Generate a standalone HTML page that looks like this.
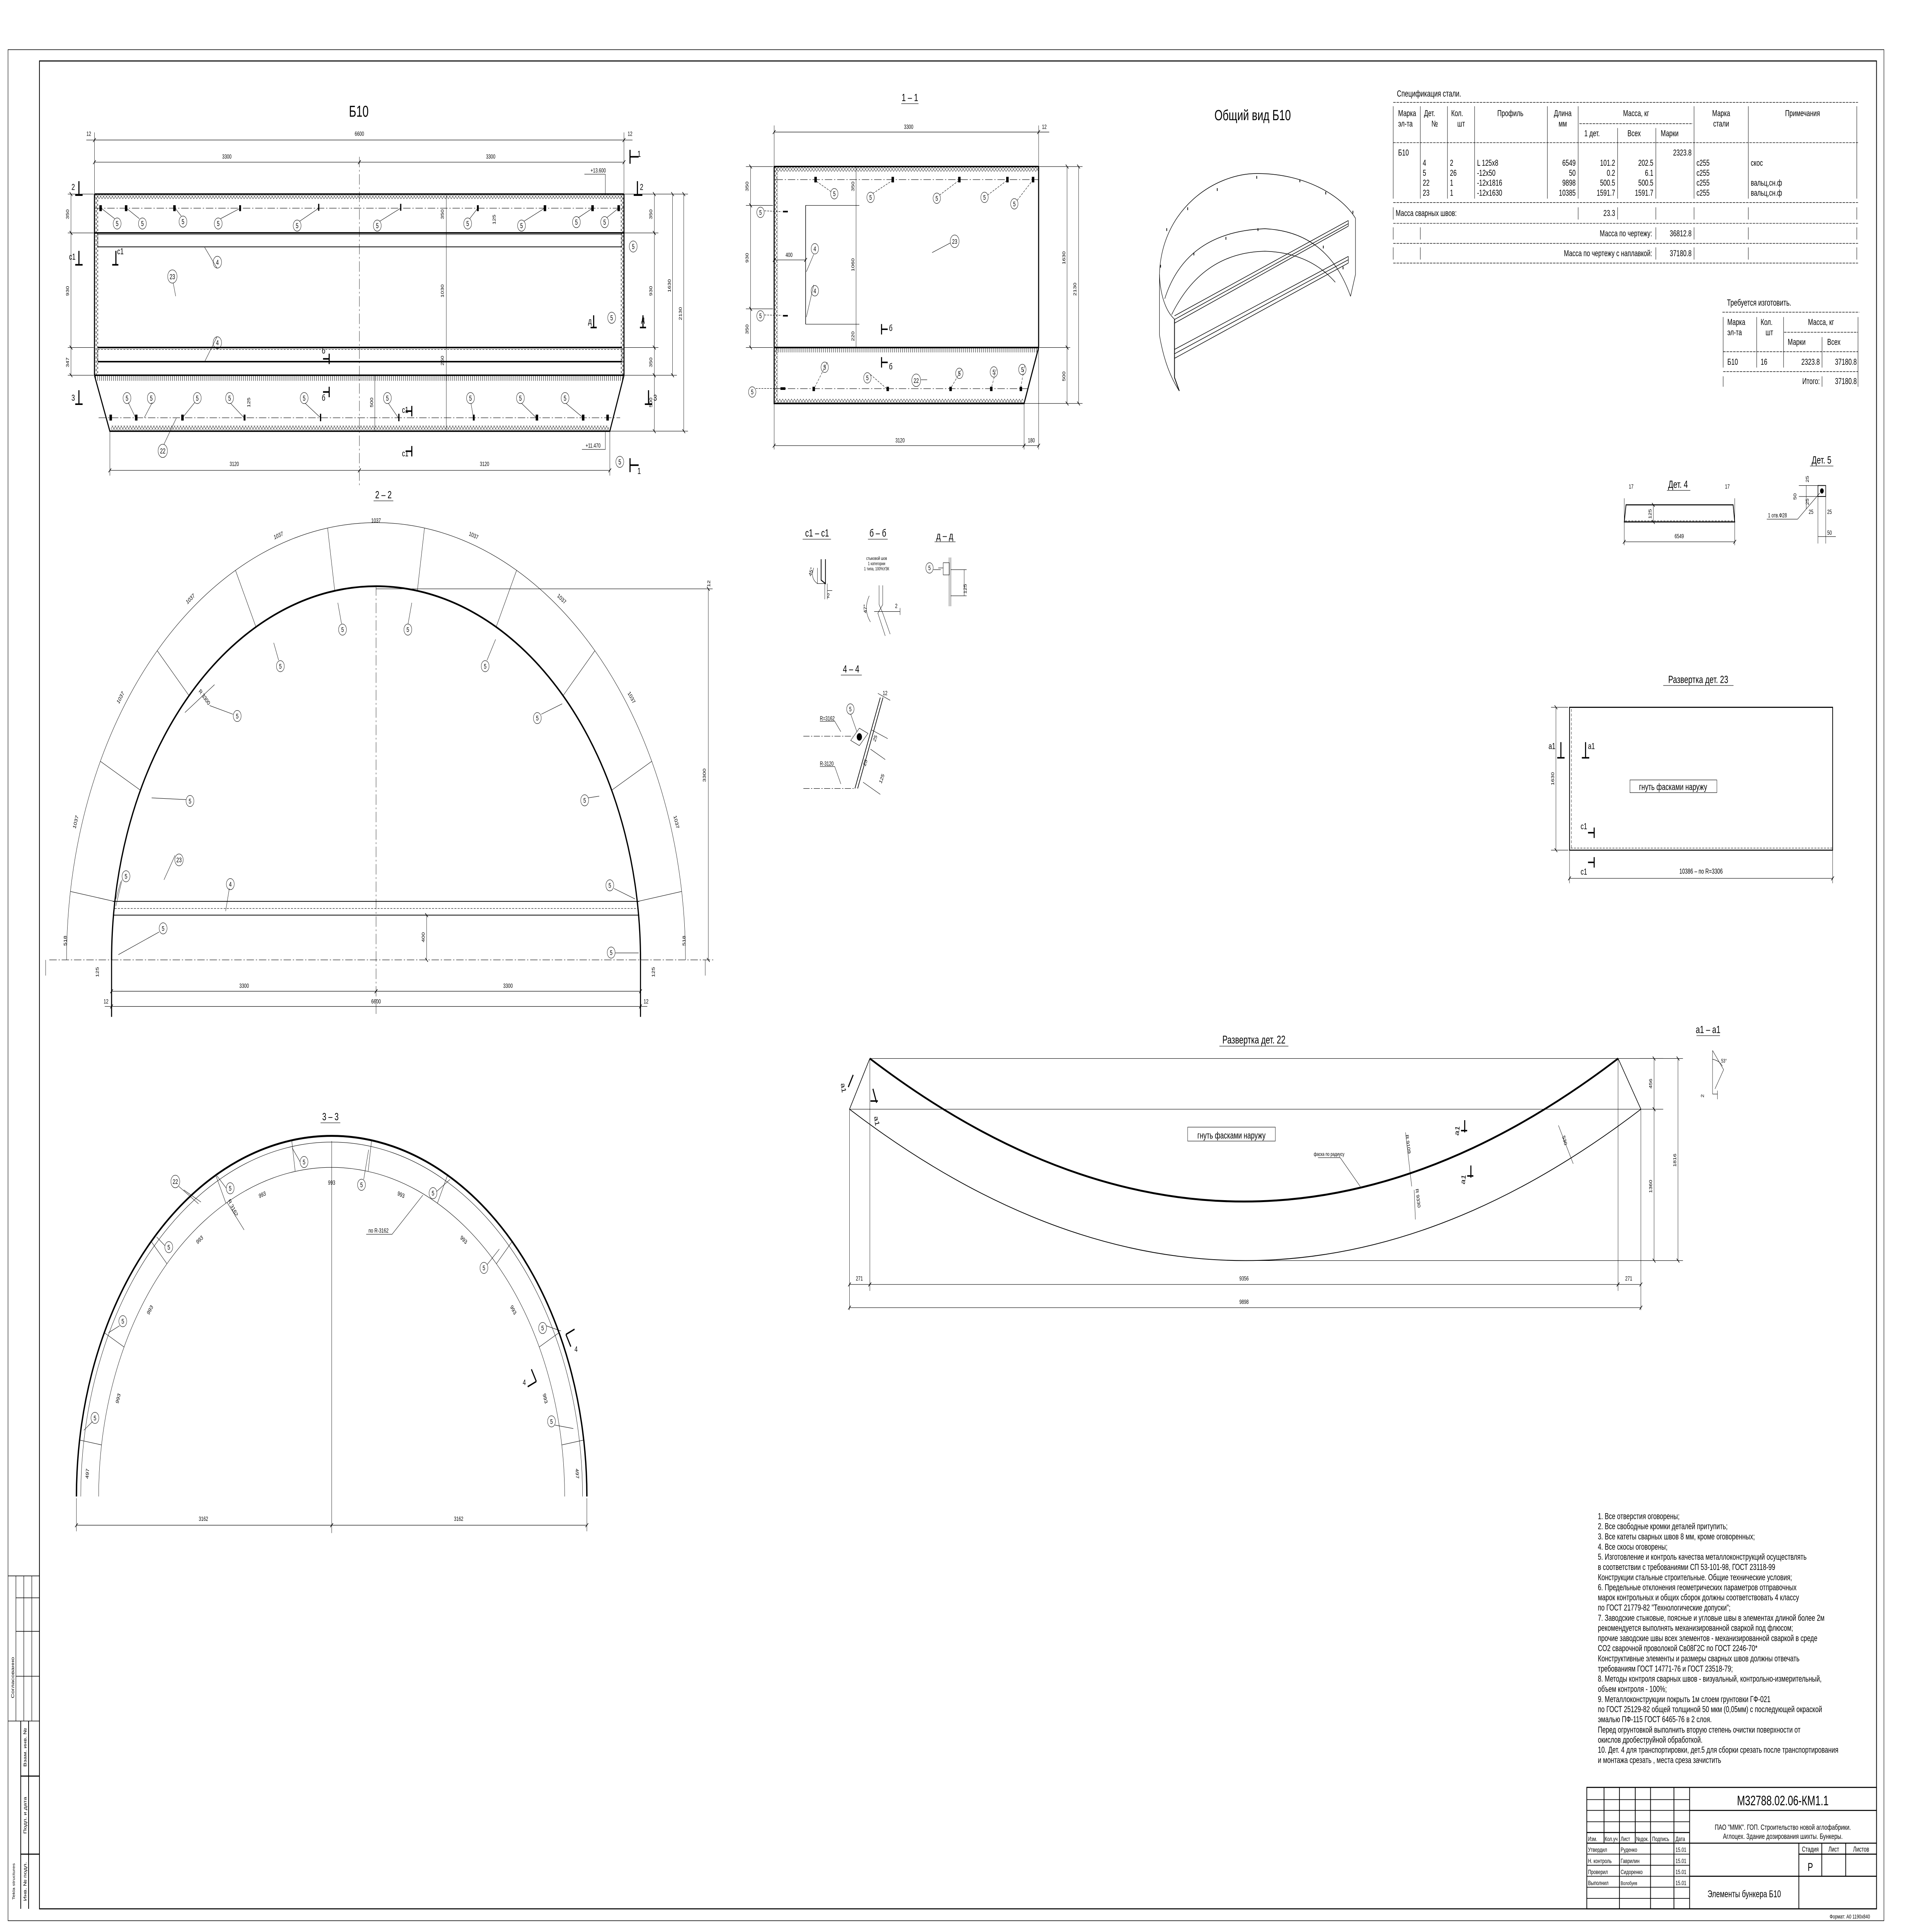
<!DOCTYPE html>
<html><head><meta charset="utf-8"><style>
html,body{margin:0;padding:0;background:#fff;overflow:hidden;width:100vw;height:100vh}
svg{display:block;position:absolute;left:0;top:0;width:100vw;height:100vh}
.t{stroke:#000;stroke-width:.25;fill:none}
.m{stroke:#000;stroke-width:.45;fill:none}
.k{stroke:#000;stroke-width:.85;fill:none}
.d{stroke:#000;stroke-width:.25;fill:none;stroke-dasharray:6 1.5 1 1.5}
.ds{stroke:#000;stroke-width:.25;fill:none;stroke-dasharray:1.6 1}
.dm{marker-start:url(#tk);marker-end:url(#tk)}
text{font-family:"Liberation Sans Narrow","Liberation Sans",sans-serif;fill:#000;stroke:none}
.n{font-size:3.4px}
.c{text-anchor:middle}
.e{text-anchor:end}
.mo{font-family:"Liberation Mono",monospace;font-size:4.9px}
.nt{font-size:5px}
</style></head><body>
<svg viewBox="0 0 1567 1109" preserveAspectRatio="none" xmlns="http://www.w3.org/2000/svg">
<defs>
<marker id="tk" markerWidth="4" markerHeight="4" refX="2" refY="2" orient="auto" markerUnits="userSpaceOnUse"><path d="M0.9 3.1L3.1 0.9" stroke="#000" stroke-width="0.4"/></marker>
<pattern id="xx" width="2.4" height="2.4" patternUnits="userSpaceOnUse"><path d="M0 0L2.4 2.4M2.4 0L0 2.4" stroke="#000" stroke-width=".2"/></pattern>
<pattern id="vv" width="1.6" height="3" patternUnits="userSpaceOnUse"><path d="M0.8 0V3" stroke="#000" stroke-width=".3"/></pattern>
</defs>
<rect width="1567" height="1109" fill="#fff"/>
<!-- frames -->
<rect x="6.5" y="28.5" width="1521.5" height="1074" class="t" style="stroke-width:.35"/>
<rect x="32" y="35" width="1490" height="1060.7" class="k" style="stroke-width:.6"/>

<!-- ===== Б10 plan ===== -->
<text x="291" y="67" class="c" style="font-size:9px">Б10</text>
<line x1="76.6" y1="80.4" x2="506.1" y2="80.4" class="t dm"/>
<line x1="70" y1="80.4" x2="513" y2="80.4" class="t"/>
<text x="72" y="78" class="n c">12</text><text x="291.5" y="78" class="n c">6600</text><text x="511" y="78" class="n c">12</text>
<line x1="76.6" y1="93.1" x2="291.5" y2="93.1" class="t dm"/><line x1="291.5" y1="93.1" x2="506.1" y2="93.1" class="t dm"/>
<text x="184" y="91" class="n c">3300</text><text x="398" y="91" class="n c">3300</text>
<line x1="76.6" y1="76" x2="76.6" y2="111" class="t"/><line x1="506.1" y1="76" x2="506.1" y2="111" class="t"/>
<line x1="291.5" y1="90" x2="291.5" y2="280" class="d"/>
<rect x="76.6" y="111.6" width="429.5" height="2.6" fill="url(#xx)"/>
<rect x="77.3" y="112" width="2.4" height="103" fill="url(#xx)"/>
<rect x="503.4" y="112" width="2.4" height="103" fill="url(#xx)"/>
<line x1="76.6" y1="111.4" x2="506.1" y2="111.4" class="k"/>
<line x1="76.6" y1="111.4" x2="76.6" y2="215.4" class="k"/>
<line x1="506.1" y1="111.4" x2="506.1" y2="215.4" class="k"/>
<line x1="77" y1="119.5" x2="506" y2="119.5" class="d"/>
<line x1="76.6" y1="133.7" x2="506.1" y2="133.7" class="k"/>
<rect x="79.3" y="134.6" width="425" height="7.1" class="t"/>
<line x1="79.3" y1="141.7" x2="504.4" y2="141.7" class="m"/>
<line x1="79.3" y1="199.5" x2="504.4" y2="199.5" class="k"/>
<line x1="79.3" y1="200.6" x2="504.4" y2="200.6" class="ds"/>
<line x1="79.3" y1="207.6" x2="504.4" y2="207.6" class="k"/>
<line x1="79.3" y1="199.5" x2="79.3" y2="207.6" class="t"/><line x1="504.4" y1="199.5" x2="504.4" y2="207.6" class="t"/>
<rect x="77" y="215.6" width="429" height="3" fill="url(#vv)"/>
<line x1="76.6" y1="215.4" x2="506.1" y2="215.4" class="k"/>
<path d="M76.6 215.4L89.1 247.5L494.6 247.5L506.1 215.4" class="k"/>
<rect x="90" y="244.3" width="404" height="2.6" fill="url(#xx)"/>
<line x1="80" y1="239.8" x2="503" y2="239.8" class="d"/>
<line x1="89.1" y1="247.5" x2="89.1" y2="273" class="t"/><line x1="494.6" y1="247.5" x2="494.6" y2="273" class="t"/>
<line x1="89.1" y1="270" x2="291.5" y2="270" class="t dm"/><line x1="291.5" y1="270" x2="494.6" y2="270" class="t dm"/>
<text x="190" y="267.5" class="n c">3120</text><text x="393" y="267.5" class="n c">3120</text>
<g class="t">
<line x1="506" y1="111.4" x2="558" y2="111.4"/><line x1="506" y1="133.7" x2="534" y2="133.7"/><line x1="506" y1="199.5" x2="534" y2="199.5"/><line x1="506" y1="215.4" x2="549" y2="215.4"/><line x1="494.6" y1="247.5" x2="558" y2="247.5"/>
<line x1="530.7" y1="111.4" x2="530.7" y2="133.7" class="t dm"/><line x1="530.7" y1="133.7" x2="530.7" y2="199.5" class="t dm"/><line x1="530.7" y1="199.5" x2="530.7" y2="215.4" class="t dm"/><line x1="530.7" y1="215.4" x2="530.7" y2="247.5" class="t dm"/>
<line x1="545.5" y1="111.4" x2="545.5" y2="215.4" class="t dm"/><line x1="554.6" y1="111.4" x2="554.6" y2="247.5" class="t dm"/>
<line x1="55" y1="111.4" x2="76" y2="111.4"/><line x1="55" y1="133.7" x2="76" y2="133.7"/><line x1="55" y1="199.5" x2="76" y2="199.5"/><line x1="55" y1="215.4" x2="76" y2="215.4"/>
<line x1="57.6" y1="111.4" x2="57.6" y2="133.7" class="t dm"/><line x1="57.6" y1="133.7" x2="57.6" y2="199.5" class="t dm"/><line x1="57.6" y1="199.5" x2="57.6" y2="215.4" class="t dm"/>
</g>
<g class="n c">
<text transform="translate(529,123) rotate(-90)">350</text><text transform="translate(529,167) rotate(-90)">930</text><text transform="translate(529,208) rotate(-90)">350</text><text transform="translate(529,231) rotate(-90)">500</text>
<text transform="translate(544,164) rotate(-90)">1630</text><text transform="translate(553,180) rotate(-90)">2130</text>
<text transform="translate(56,123) rotate(-90)">350</text><text transform="translate(56,167) rotate(-90)">930</text><text transform="translate(56,208) rotate(-90)">347</text>
<text transform="translate(360,167) rotate(-90)">1030</text><text transform="translate(360,123) rotate(-90)">350</text><text transform="translate(360,207) rotate(-90)">250</text><text transform="translate(302.6,231) rotate(-90)">500</text><text transform="translate(203,231) rotate(-90)">125</text><text transform="translate(402,126) rotate(-90)">125</text>
</g>
<line x1="304" y1="215.4" x2="304" y2="247.5" class="t"/><line x1="362" y1="112" x2="362" y2="247" class="t"/>
<g fill="#000">
<rect x="80.6" y="117.8" width="2" height="3.4"/><rect x="101.3" y="117.8" width="2" height="3.4"/><rect x="140.5" y="117.8" width="2" height="3.4"/><rect x="194" y="117.8" width="1.5" height="3.4"/><rect x="258" y="117" width="1" height="4"/><rect x="324.5" y="117" width="1" height="4"/><rect x="386.8" y="117.8" width="1.5" height="3.4"/><rect x="441" y="117.8" width="2" height="3.4"/><rect x="479.6" y="117.8" width="2" height="3.4"/><rect x="500.8" y="117.8" width="2" height="3.4"/>
<rect x="88.8" y="238" width="2" height="3.4"/><rect x="109.5" y="238" width="2" height="3.4"/><rect x="147" y="238" width="2" height="3.4"/><rect x="197.6" y="238" width="1.5" height="3.4"/><rect x="259.5" y="237.5" width="1" height="4.3"/><rect x="323" y="237.5" width="1" height="4.3"/><rect x="383.5" y="238" width="1.5" height="3.4"/><rect x="434.5" y="238" width="2" height="3.4"/><rect x="472" y="238" width="2" height="3.4"/><rect x="491.8" y="238" width="2" height="3.4"/>
</g>
<g class="t">
<circle cx="95" cy="128.3" r="3.2"/><circle cx="115.5" cy="128.3" r="3.2"/><circle cx="148.4" cy="127.2" r="3.2"/><circle cx="177" cy="128.3" r="3.2"/><circle cx="241" cy="129.5" r="3.2"/><circle cx="306" cy="129.5" r="3.2"/><circle cx="379.3" cy="128.3" r="3.2"/><circle cx="423" cy="129.5" r="3.2"/><circle cx="467.5" cy="127.5" r="3.2"/><circle cx="490.4" cy="127.5" r="3.2"/>
<circle cx="103" cy="228.5" r="3.2"/><circle cx="122.7" cy="228.5" r="3.2"/><circle cx="160" cy="228.5" r="3.2"/><circle cx="186.2" cy="228.5" r="3.2"/><circle cx="246.7" cy="228.5" r="3.2"/><circle cx="314.2" cy="228.5" r="3.2"/><circle cx="381.6" cy="228.5" r="3.2"/><circle cx="422.1" cy="228.5" r="3.2"/><circle cx="458.3" cy="228.5" r="3.2"/>
<circle cx="513.6" cy="141.5" r="3.2"/><circle cx="496.1" cy="182.4" r="3.2"/><circle cx="502.7" cy="265.1" r="3.2"/>
<circle cx="176.3" cy="150.5" r="3.4"/><circle cx="176.3" cy="196.7" r="3.4"/><circle cx="139.8" cy="158.7" r="3.8"/><circle cx="132" cy="258.8" r="3.8"/>
<path d="M93 125.5L82 119.5M113 125.5L102.5 119.5M147 124L142 119.5M179 125.5L195 119.5M243 127L258.6 119.5M308 127L325 119.5M381 125.5L387.5 119.5M425 127L441.8 119.5M469 125L480.6 119.5M492 125L501.8 119.5"/>
<path d="M104 231L110 239.8M123.5 231L117 239.8M158 231L148 239.8M187 231.5L198 239.8M247.5 231.5L260 239.8M315 231.5L323 239.8M382 231.5L384 239.8M423 231.5L435 239.8M459 231.5L473 239.8"/>
<path d="M176 153.9L166 142M176 193.3L166 207.6M140.5 162.5L142.5 170M133 255L143 240"/>
</g>
<g class="n c" style="font-size:4px">
<text x="95" y="129.8">5</text><text x="115.5" y="129.8">5</text><text x="148.4" y="128.7">5</text><text x="177" y="129.8">5</text><text x="241" y="131">5</text><text x="306" y="131">5</text><text x="379.3" y="129.8">5</text><text x="423" y="131">5</text><text x="467.5" y="129">5</text><text x="490.4" y="129">5</text>
<text x="103" y="230">5</text><text x="122.7" y="230">5</text><text x="160" y="230">5</text><text x="186.2" y="230">5</text><text x="246.7" y="230">5</text><text x="314.2" y="230">5</text><text x="381.6" y="230">5</text><text x="422.1" y="230">5</text><text x="458.3" y="230">5</text>
<text x="513.6" y="143">5</text><text x="496.1" y="183.9">5</text><text x="502.7" y="266.6">5</text>
<text x="176.3" y="152">4</text><text x="176.3" y="198.2">4</text><text x="139.8" y="160.2">23</text><text x="132" y="260.3">22</text>
</g>
<g class="k" style="stroke-width:.9">
<path d="M61 112H67M64 104V112"/><path d="M514 112H521M517 104V112"/><path d="M511 86V94M511 90H518"/><path d="M511 263V271M511 267H518"/>
<path d="M61 232H67M64 224V232"/><path d="M523 232H529M526 224V232"/>
<path d="M61 152H67M64 144V152"/><path d="M91 152H96M94 144V152"/>
<path d="M479 188H484M481.5 181V188"/><path d="M519 188H524M521.5 181V188"/>
<path d="M267 203V209M262 206H267"/><path d="M267 222V228M262 225H267"/>
<path d="M334 233V239M329 236H334"/><path d="M334 256V262M329 259H334"/>
</g>
<g style="font-size:5px">
<text x="58" y="109">2</text><text x="519" y="109">2</text><text x="517" y="90">1</text><text x="517" y="272">1</text><text x="58" y="230">3</text><text x="530" y="230">3</text>
<text x="56" y="149">с1</text><text x="95" y="146">с1</text><text x="477" y="186">д</text><text x="520" y="185">д</text><text x="261" y="203">б</text><text x="261" y="230">б</text><text x="326" y="237">с1</text><text x="326" y="262">с1</text>
</g>
<text x="479" y="99" class="n">+13.600</text><line x1="474" y1="100" x2="491" y2="100" class="t"/><line x1="491" y1="100" x2="491" y2="111" class="t"/>
<text x="475" y="257" class="n">+11.470</text><line x1="472" y1="258" x2="491" y2="258" class="t"/><line x1="491" y1="258" x2="491" y2="248" class="t"/>

<!-- ===== 1-1 ===== -->
<text x="738" y="58" class="c" style="font-size:6px">1 – 1</text><line x1="731" y1="59.5" x2="745" y2="59.5" class="t"/>
<line x1="627.9" y1="75.8" x2="842.4" y2="75.8" class="t dm"/><line x1="842.4" y1="75.8" x2="851" y2="75.8" class="t"/>
<line x1="627.9" y1="72" x2="627.9" y2="95" class="t"/><line x1="842.4" y1="72" x2="842.4" y2="95" class="t"/>
<text x="737" y="74" class="n c">3300</text><text x="847" y="74" class="n c">12</text>
<rect x="628" y="96" width="214" height="2.5" fill="url(#xx)"/>
<rect x="628.5" y="96" width="2.4" height="135" fill="url(#xx)"/>
<rect x="630" y="229" width="200" height="2.4" fill="url(#xx)"/>
<rect x="628" y="199.7" width="214" height="2.6" fill="url(#vv)"/>
<path d="M627.9 95.6H842.4V199.5L830.6 231.6H627.9Z" class="k"/>
<line x1="627.9" y1="199.5" x2="842.4" y2="199.5" class="k"/>
<line x1="629" y1="103.1" x2="842" y2="103.1" class="d"/><line x1="629" y1="223.1" x2="834" y2="223.1" class="d"/>
<line x1="694.3" y1="95.6" x2="694.3" y2="199.5" class="t"/>
<line x1="653.4" y1="117.9" x2="653.4" y2="186.1" class="m"/><line x1="653.4" y1="117.9" x2="697" y2="117.9" class="t"/><line x1="653.4" y1="186.1" x2="697" y2="186.1" class="t"/>
<line x1="628" y1="149.2" x2="653.4" y2="149.2" class="t dm"/><text x="640" y="147.5" class="n c">400</text>
<g class="t"><line x1="605" y1="95.6" x2="627" y2="95.6"/><line x1="605" y1="117.9" x2="627" y2="117.9"/><line x1="605" y1="177.3" x2="627" y2="177.3"/><line x1="605" y1="199.5" x2="627" y2="199.5"/>
<line x1="843" y1="95.6" x2="878" y2="95.6"/><line x1="843" y1="199.5" x2="868" y2="199.5"/><line x1="831" y1="231.6" x2="878" y2="231.6"/>
<line x1="627.9" y1="232" x2="627.9" y2="258"/><line x1="830.6" y1="232" x2="830.6" y2="258"/><line x1="842.4" y1="200" x2="842.4" y2="258"/></g>
<line x1="608.8" y1="95.6" x2="608.8" y2="117.9" class="t dm"/><line x1="608.8" y1="117.9" x2="608.8" y2="177.3" class="t dm"/><line x1="608.8" y1="177.3" x2="608.8" y2="199.5" class="t dm"/>
<line x1="865.5" y1="95.6" x2="865.5" y2="199.5" class="t dm"/><line x1="865.5" y1="199.5" x2="865.5" y2="231.6" class="t dm"/><line x1="874.8" y1="95.6" x2="874.8" y2="231.6" class="t dm"/>
<line x1="627.9" y1="255.8" x2="830.6" y2="255.8" class="t dm"/><line x1="830.6" y1="255.8" x2="842.4" y2="255.8" class="t dm"/>
<text x="730" y="254" class="n c">3120</text><text x="836.5" y="254" class="n c">180</text>
<g class="n c"><text transform="translate(607,107) rotate(-90)">350</text><text transform="translate(607,148) rotate(-90)">930</text><text transform="translate(607,189) rotate(-90)">350</text>
<text transform="translate(864,148) rotate(-90)">1630</text><text transform="translate(864,216) rotate(-90)">500</text><text transform="translate(873,166) rotate(-90)">2130</text>
<text transform="translate(693,152) rotate(-90)">1060</text><text transform="translate(693,193) rotate(-90)">220</text><text transform="translate(693,107) rotate(-90)">350</text></g>
<g fill="#000"><rect x="660.5" y="101.5" width="2" height="3.2"/><rect x="723.1" y="101.5" width="2" height="3.2"/><rect x="777.1" y="101.5" width="2" height="3.2"/><rect x="816.1" y="101.5" width="2" height="3.2"/><rect x="836.9" y="101.5" width="2" height="3.2"/>
<rect x="635" y="121" width="4" height="0.9"/><rect x="635" y="180.8" width="4" height="0.9"/><rect x="633" y="222.3" width="4" height="1.5"/><rect x="659" y="222" width="2" height="2.5"/><rect x="719" y="222" width="2" height="2.5"/><rect x="770" y="222" width="2" height="2.5"/><rect x="803" y="222" width="2" height="2.5"/><rect x="827" y="222" width="2" height="2.5"/></g>
<g class="t" style="stroke-dasharray:1.5 .8">
<path d="M674 110L662 104M708 111L723 104M762 112L777 104M801 112L816 104M825 115L837 104M620 121L634 121.5M620 180.8L634 181M671 208L661 222M706 215L719 223M780 212L771 223M808 212L804 223M831 210L828 222M613 223L632 223"/></g>
<g class="t"><circle cx="676.7" cy="111.2" r="3"/><circle cx="706.1" cy="113.3" r="3"/><circle cx="759.8" cy="113.8" r="3"/><circle cx="798.5" cy="113.3" r="3"/><circle cx="822.7" cy="117" r="3"/><circle cx="616.8" cy="121.9" r="3"/><circle cx="616.8" cy="181.3" r="3"/><circle cx="668.9" cy="210.8" r="3"/><circle cx="703.5" cy="216.9" r="3"/><circle cx="778.1" cy="214.3" r="3"/><circle cx="806.1" cy="213.5" r="3"/><circle cx="829.2" cy="212.1" r="3"/><circle cx="610.1" cy="225" r="3"/>
<circle cx="660.9" cy="142.8" r="3"/><circle cx="660.9" cy="166.9" r="3"/><circle cx="774.3" cy="138.5" r="3.6"/><circle cx="743.1" cy="218.3" r="3.6"/>
<path d="M770.7 139.5L756 145M747 218H752M660 146L654 156M660 163.5L654 182"/></g>
<g class="n c" style="font-size:3.8px"><text x="676.7" y="112.6">5</text><text x="706.1" y="114.7">5</text><text x="759.8" y="115.2">5</text><text x="798.5" y="114.7">5</text><text x="822.7" y="118.4">5</text><text x="616.8" y="123.3">5</text><text x="616.8" y="182.7">5</text><text x="668.9" y="212.2">5</text><text x="703.5" y="218.3">5</text><text x="778.1" y="215.7">5</text><text x="806.1" y="214.9">5</text><text x="829.2" y="213.5">5</text><text x="610.1" y="226.4">5</text>
<text x="660.9" y="144.2">4</text><text x="660.9" y="168.3">4</text><text x="774.3" y="140">23</text><text x="743.1" y="219.8">22</text></g>
<g class="k"><path d="M715 186V192M715 189H720"/><path d="M715 205V211M715 208H720"/></g>
<text x="721" y="190" style="font-size:5px">б</text><text x="721" y="212" style="font-size:5px">б</text>

<!-- ===== Общий вид ===== -->
<text x="1016" y="69" class="c" style="font-size:8.5px">Общий вид Б10</text>
<g class="t" style="stroke-width:.35">
<path d="M940.4 157.5C942 120 985 99.6 1019.6 99.6C1058 99.6 1088 112 1099.4 125.3"/>
<path d="M940.4 157.5C941 170 946 179 952.6 183.2"/>
<path d="M940.4 157.5V192.3Q945 212 956.5 224.4"/>
<path d="M952.6 183.2V216.7L956.5 224.4" style="stroke-width:.6"/>
<path d="M1099.4 125.3V157.5L1095.4 170.1"/>
<path d="M944.7 171.5Q962 133 1025.9 131.3Q1077 133 1095.4 170.1"/>
<path d="M950.3 180.6Q975 145 1025.9 144.2Q1062 145 1083 162"/>
<path d="M952.6 181.3L1093.6 126.6M952.6 183.4L1093.6 128.4M952.6 185.5L1093.6 129.8M1093.6 126.6V129.8"/>
<path d="M952.6 200.6L1093.6 147.2M952.6 203.1L1093.6 149.1M952.6 205.7L1093.6 151M1093.6 147.2V151"/>
</g>
<g fill="#000"><rect x="1019" y="101" width=".6" height="1.6"/><rect x="1054" y="103" width=".6" height="1.6"/><rect x="987" y="108" width=".6" height="1.6"/><rect x="963" y="119" width=".6" height="1.6"/><rect x="1075" y="110" width=".6" height="1.6"/><rect x="1097" y="121" width=".6" height="1.6"/><rect x="946" y="131" width=".6" height="1.6"/><rect x="941" y="152" width=".6" height="1.6"/><rect x="1020" y="131" width=".6" height="1.6"/><rect x="994" y="136" width=".6" height="1.6"/><rect x="968" y="145" width=".6" height="1.6"/><rect x="1073" y="141" width=".6" height="1.6"/><rect x="1089" y="153" width=".6" height="1.6"/></g>

<!-- ===== spec table ===== -->
<g class="mo">
<text x="1133" y="55.4" style="font-size:5.1px">Спецификация стали.</text>
<text x="1134" y="66.6">Марка</text><text x="1155" y="66.6">Дет.</text><text x="1177" y="66.6">Кол.</text><text x="1225" y="66.6" class="c">Профиль</text><text x="1267.5" y="66.6" class="c">Длина</text><text x="1327" y="66.6" class="c">Масса, кг</text><text x="1396" y="66.6" class="c">Марка</text><text x="1462" y="66.6" class="c">Примечания</text>
<text x="1134" y="72.6">эл-та</text><text x="1161" y="72.6">№</text><text x="1182" y="72.6">шт</text><text x="1267.5" y="72.6" class="c">мм</text><text x="1396" y="72.6" class="c">стали</text>
<text x="1285" y="78.2">1 дет.</text><text x="1320" y="78.2">Всех</text><text x="1347" y="78.2">Марки</text>
<text x="1134" y="89.3">Б10</text><text x="1372" y="89.3" class="e">2323.8</text>
<text x="1154" y="95.1">4</text><text x="1176" y="95.1">2</text><text x="1198" y="95.1">L 125x8</text><text x="1278" y="95.1" class="e">6549</text><text x="1310" y="95.1" class="e">101.2</text><text x="1341" y="95.1" class="e">202.5</text><text x="1376" y="95.1">с255</text><text x="1420" y="95.1">скос</text>
<text x="1154" y="100.9">5</text><text x="1176" y="100.9">26</text><text x="1198" y="100.9">-12x50</text><text x="1278" y="100.9" class="e">50</text><text x="1310" y="100.9" class="e">0.2</text><text x="1341" y="100.9" class="e">6.1</text><text x="1376" y="100.9">с255</text>
<text x="1154" y="106.6">22</text><text x="1176" y="106.6">1</text><text x="1198" y="106.6">-12x1816</text><text x="1278" y="106.6" class="e">9898</text><text x="1310" y="106.6" class="e">500.5</text><text x="1341" y="106.6" class="e">500.5</text><text x="1376" y="106.6">с255</text><text x="1420" y="106.6">вальц,сн.ф</text>
<text x="1154" y="112.4">23</text><text x="1176" y="112.4">1</text><text x="1198" y="112.4">-12x1630</text><text x="1278" y="112.4" class="e">10385</text><text x="1310" y="112.4" class="e">1591.7</text><text x="1341" y="112.4" class="e">1591.7</text><text x="1376" y="112.4">с255</text><text x="1420" y="112.4">вальц,сн.ф</text>
<text x="1132" y="124">Масса сварных швов:</text><text x="1310" y="124" class="e">23.3</text>
<text x="1340" y="135.6" class="e">Масса по чертежу:</text><text x="1372" y="135.6" class="e">36812.8</text>
<text x="1340" y="147.1" class="e">Масса по чертежу с наплавкой:</text><text x="1372" y="147.1" class="e">37180.8</text>
</g>
<g class="ds" style="stroke-dasharray:2 .7;stroke-width:.3">
<line x1="1130" y1="58.8" x2="1507" y2="58.8"/><line x1="1130" y1="81.9" x2="1507" y2="81.9"/><line x1="1281" y1="71" x2="1373" y2="71"/><line x1="1130" y1="116.3" x2="1507" y2="116.3"/><line x1="1130" y1="128.2" x2="1507" y2="128.2"/><line x1="1130" y1="139.7" x2="1507" y2="139.7"/><line x1="1130" y1="151" x2="1507" y2="151"/>
</g>
<g class="t" style="stroke-width:.3">
<path d="M1130 61V114M1152 61V114M1174 61V114M1196 61V114M1255 61V114M1280 61V114M1374 61V114M1418 61V114M1506 61V114M1312 73.5V114M1343 73.5V114"/>
<path d="M1130 119V126M1280 119V126M1312 119V126M1343 119V126M1374 119V126M1418 119V126M1506 119V126"/>
<path d="M1130 130.5V137.5M1152 130.5V137.5M1343 130.5V137.5M1374 130.5V137.5M1418 130.5V137.5M1506 130.5V137.5"/>
<path d="M1130 142V149M1152 142V149M1343 142V149M1374 142V149M1418 142V149M1506 142V149"/>
</g>
<g class="mo">
<text x="1400.7" y="175.4" style="font-size:5.1px">Требуется изготовить.</text>
<text x="1401" y="186.5">Марка</text><text x="1428" y="186.5">Кол.</text><text x="1477" y="186.5" class="c">Масса, кг</text>
<text x="1401" y="192.4">эл-та</text><text x="1432" y="192.4">шт</text>
<text x="1450" y="198">Марки</text><text x="1482" y="198">Всех</text>
<text x="1401" y="209.4">Б10</text><text x="1428" y="209.4">16</text><text x="1476" y="209.4" class="e">2323.8</text><text x="1506" y="209.4" class="e">37180.8</text>
<text x="1476" y="220.5" class="e">Итого:</text><text x="1506" y="220.5" class="e">37180.8</text>
</g>
<g class="ds" style="stroke-dasharray:2 .7;stroke-width:.3"><line x1="1397" y1="179.2" x2="1508" y2="179.2"/><line x1="1447" y1="190.7" x2="1507" y2="190.7"/><line x1="1397.6" y1="201.9" x2="1507" y2="201.9"/><line x1="1397.6" y1="213.3" x2="1507" y2="213.3"/></g>
<g class="t" style="stroke-width:.3"><path d="M1397.6 182V211M1424.8 182V211M1446.6 182V211M1477.8 193.5V211M1507 182V222M1397.6 216V222M1477.8 216V222"/></g>

<!-- ===== Дет 4 / Дет 5 ===== -->
<text x="1361" y="280" class="c" style="font-size:6px">Дет. 4</text><line x1="1352" y1="281.5" x2="1371" y2="281.5" class="t"/>
<path d="M1318.8 289.8H1405.7L1407 299.6H1317.4Z" class="k" style="stroke-width:.6"/>
<line x1="1318" y1="299" x2="1407" y2="299" class="ds"/>
<line x1="1341" y1="289.8" x2="1341" y2="299.6" class="t dm"/><text transform="translate(1339.5,295) rotate(-90)" class="n c">125</text>
<line x1="1317.4" y1="311" x2="1407" y2="311" class="t dm"/><line x1="1317.4" y1="286" x2="1317.4" y2="313" class="t"/><line x1="1407" y1="286" x2="1407" y2="313" class="t"/>
<text x="1362" y="309" class="n c">6549</text><text x="1323" y="280.5" class="n c">17</text><text x="1401" y="280.5" class="n c">17</text>
<text x="1477.4" y="266" class="c" style="font-size:6px">Дет. 5</text><line x1="1468" y1="267.5" x2="1487" y2="267.5" class="t"/>
<rect x="1474.5" y="278.7" width="6.3" height="6.3" class="m"/><circle cx="1477.7" cy="281.8" r="1.5" fill="#000"/>
<g class="t"><path d="M1459 278.7H1474.5M1459 285H1474.5M1465 278.7V292M1474.5 285V312M1480.8 285V312M1458 298L1476 283M1433 298H1458M1474.5 308H1489"/></g>
<g class="n"><text transform="translate(1457,285) rotate(-90)" class="c">50</text><text transform="translate(1467,275) rotate(-90)" class="c">25</text><text transform="translate(1467,288) rotate(-90)" class="c">25</text><text x="1467" y="295">25</text><text x="1482" y="295">25</text><text x="1482" y="307">50</text><text x="1434" y="297">1 отв.Ф28</text></g>

<!-- ===== Развертка дет 23 ===== -->
<text x="1377.4" y="392" class="c" style="font-size:6px">Развертка дет. 23</text><line x1="1349" y1="393.5" x2="1406" y2="393.5" class="t"/>
<path d="M1273 406H1486.4V488H1273Z" class="k" style="stroke-width:.6"/>
<line x1="1274.5" y1="407" x2="1274.5" y2="487" class="ds"/><line x1="1274" y1="486.8" x2="1486" y2="486.8" class="ds"/>
<rect x="1322" y="447.7" width="70.5" height="7.3" class="t"/><text x="1357" y="453.5" class="c" style="font-size:5.3px">гнуть фасками наружу</text>
<line x1="1273" y1="504.2" x2="1486.4" y2="504.2" class="t dm"/><line x1="1273" y1="488" x2="1273" y2="507" class="t"/><line x1="1486.4" y1="488" x2="1486.4" y2="507" class="t"/>
<text x="1379.7" y="501.5" class="n c" style="font-size:4px">10386 – по R=3306</text>
<line x1="1262" y1="406" x2="1262" y2="488" class="t dm"/><line x1="1258" y1="406" x2="1272" y2="406" class="t"/><line x1="1258" y1="488" x2="1272" y2="488" class="t"/>
<text transform="translate(1260.5,447) rotate(-90)" class="n c">1630</text>
<g class="k"><path d="M1263 435H1269M1266 426V435"/><path d="M1283 435H1289M1286 426V435"/><path d="M1293 475V481M1288 478H1293"/><path d="M1293 492V498M1288 495H1293"/></g>
<g style="font-size:5px"><text x="1256" y="430">а1</text><text x="1288" y="430">а1</text><text x="1282" y="476">с1</text><text x="1282" y="502">с1</text></g>

<!-- ===== 2-2 ===== -->
<text x="311" y="286" class="c" style="font-size:6px">2 – 2</text><line x1="303" y1="287.5" x2="319" y2="287.5" class="t"/>
<path d="M90.5 551A214.5 214.5 0 0 1 519.5 551" class="k" style="stroke-width:1"/>
<path d="M54 551A251 251 0 0 1 556 551" class="t"/>
<line x1="90.5" y1="551" x2="90.5" y2="583.7" class="k"/><line x1="519.5" y1="551" x2="519.5" y2="583.7" class="k"/>
<line x1="40" y1="551" x2="580" y2="551" class="d"/>
<line x1="305" y1="336" x2="305" y2="583" class="d"/>
<line x1="91.5" y1="517.4" x2="518.5" y2="517.4" class="m"/><line x1="91.5" y1="525.3" x2="518.5" y2="525.3" class="m"/><line x1="93" y1="521.5" x2="517" y2="521.5" class="ds"/>
<g class="t">
<path d="M516.9 517.5L552.9 511.7M496.1 453.6L528.6 437M456.7 399.3L482.5 373.5M402.4 359.9L419 327.4M338.5 339.1L344.3 303.1M271.5 339.1L265.7 303.1M207.6 359.9L191 327.4M153.3 399.3L127.5 373.5M113.9 453.6L81.4 437M93.1 517.5L57.1 511.7"/>
<line x1="305" y1="338" x2="578" y2="338"/>
<line x1="574.5" y1="338" x2="574.5" y2="551" class="t dm"/>
<line x1="346" y1="525.3" x2="346" y2="551" class="t dm"/>
<line x1="90.5" y1="569" x2="305" y2="569" class="t dm"/><line x1="305" y1="569" x2="519.5" y2="569" class="t dm"/>
<line x1="85" y1="577.7" x2="525" y2="577.7"/><line x1="90.5" y1="577.7" x2="519.5" y2="577.7" class="t dm"/>
<line x1="37" y1="551" x2="37" y2="560"/><line x1="572" y1="551" x2="572" y2="560"/>
<path d="M150 409L174 393M133 505L142 491M94 520L99 505"/>
</g>
<g class="n c" style="font-size:3.5px">
<text transform="translate(547.5,472.2) rotate(72)">1037</text><text transform="translate(511.3,401.1) rotate(54)">1037</text><text transform="translate(454.9,344.7) rotate(36)">1037</text><text transform="translate(383.8,308.5) rotate(18)">1037</text><text x="305" y="300">1037</text><text transform="translate(226.2,308.5) rotate(-18)">1037</text><text transform="translate(155.1,344.7) rotate(-36)">1037</text><text transform="translate(98.7,401.1) rotate(-54)">1037</text><text transform="translate(62.5,472.2) rotate(-72)">1037</text>
<text transform="translate(572.5,445) rotate(-90)">3300</text><text transform="translate(576,335) rotate(-90)">12</text>
<text transform="translate(344.5,538) rotate(-90)">400</text><text transform="translate(54,540) rotate(-90)">518</text><text transform="translate(556,540) rotate(-90)">518</text>
<text transform="translate(80,558) rotate(-90)">125</text><text transform="translate(531,558) rotate(-90)">125</text>
<text x="198" y="567">3300</text><text x="412" y="567">3300</text><text x="305" y="576">6600</text><text x="86" y="576">12</text><text x="524" y="576">12</text>
<text transform="translate(165,401) rotate(45)">R 3300</text>
</g>
<g class="t"><circle cx="277.8" cy="361.4" r="3.2"/><circle cx="330.8" cy="361.4" r="3.2"/><circle cx="227.4" cy="382.4" r="3.2"/><circle cx="393.5" cy="382.4" r="3.2"/><circle cx="192.4" cy="411" r="3.2"/><circle cx="435.8" cy="412.2" r="3.2"/><circle cx="154.1" cy="459.8" r="3.2"/><circle cx="474.2" cy="459.4" r="3.2"/><circle cx="145.2" cy="493.6" r="3.4"/><circle cx="102.2" cy="503" r="3.2"/><circle cx="494.6" cy="508.2" r="3.2"/><circle cx="186.8" cy="507.5" r="3.2"/><circle cx="132.3" cy="532.9" r="3.2"/><circle cx="495.7" cy="546.8" r="3.2"/>
<path d="M277 358L274 346M331 358L334 346M226 379L222 369M395 379L402 367M189 410L170 405M439 410L456 404M151 459L123 458M477 458L486 457M98 506L94 516M498 510L515 516M186 510L183 523M129 535L96 548M499 547L518 547"/></g>
<g class="n c" style="font-size:3.9px"><text x="277.8" y="362.8">5</text><text x="330.8" y="362.8">5</text><text x="227.4" y="383.8">5</text><text x="393.5" y="383.8">5</text><text x="192.4" y="412.4">5</text><text x="435.8" y="413.6">5</text><text x="154.1" y="461.2">5</text><text x="474.2" y="460.8">5</text><text x="145.2" y="495">23</text><text x="102.2" y="504.4">5</text><text x="494.6" y="509.6">5</text><text x="186.8" y="508.9">4</text><text x="132.3" y="534.3">5</text><text x="495.7" y="548.2">5</text></g>

<!-- ===== 3-3 ===== -->
<text x="268" y="643" class="c" style="font-size:6px">3 – 3</text><line x1="260" y1="644.5" x2="276" y2="644.5" class="t"/>
<path d="M62 859A207 207 0 0 1 476 859" class="k" style="stroke-width:1.1"/>
<path d="M65.5 859A203.5 203.5 0 0 1 472.5 859" class="t"/>
<path d="M80 859A189 189 0 0 1 458 859" class="t"/>
<line x1="269" y1="655" x2="269" y2="880" class="t"/>
<line x1="62" y1="875.5" x2="269" y2="875.5" class="t dm"/><line x1="269" y1="875.5" x2="476" y2="875.5" class="t dm"/>
<line x1="62" y1="860" x2="62" y2="879" class="t"/><line x1="476" y1="860" x2="476" y2="879" class="t"/>
<text x="165" y="873" class="n c">3162</text><text x="372" y="873" class="n c">3162</text>
<g class="t"><path d="M455.7 829.4L473.5 826.6M437.4 773.2L453.4 765M402.6 725.4L415.4 712.6M354.8 690.6L363 674.6M298.6 672.3L301.4 654.5M239.4 672.3L236.6 654.5M183.2 690.6L175 674.6M135.4 725.4L122.6 712.6M100.6 773.2L84.6 765M82.3 829.4L64.5 826.6"/>
<path d="M297 708.5L318 708.5L343 686M149 683L163 690M184 690L198 706"/></g>
<g class="n c" style="font-size:3.5px">
<text transform="translate(441.1,803.1) rotate(72)">993</text><text transform="translate(415.4,752.6) rotate(54)">993</text><text transform="translate(375.4,712.6) rotate(36)">993</text><text transform="translate(324.9,686.9) rotate(18)">993</text><text x="269" y="680">993</text><text transform="translate(213.1,686.9) rotate(-18)">993</text><text transform="translate(162.6,712.6) rotate(-36)">993</text><text transform="translate(122.6,752.6) rotate(-54)">993</text><text transform="translate(96.9,803.1) rotate(-72)">993</text>
<text transform="translate(72,846) rotate(-85)">497</text><text transform="translate(467,846) rotate(85)">497</text>
<text x="307" y="707.5">по R-3162</text><text transform="translate(188,694) rotate(55)">R 3162</text></g>
<g class="t"><circle cx="246.6" cy="667" r="3.2"/><circle cx="293.2" cy="680.1" r="3.2"/><circle cx="186.7" cy="682.1" r="3.2"/><circle cx="351.2" cy="684.9" r="3.2"/><circle cx="136.9" cy="715.9" r="3.2"/><circle cx="392.5" cy="727.8" r="3.2"/><circle cx="99.6" cy="758.4" r="3.2"/><circle cx="440.1" cy="762.3" r="3.2"/><circle cx="77" cy="813.9" r="3.2"/><circle cx="447.3" cy="815.9" r="3.2"/><circle cx="142.2" cy="678.2" r="3.6"/>
<path d="M243.5 667L237 659M295 677L299 660M183.5 682L176 675M354 684L365 677M133.7 715L127 710M395 726L405 717M97 761L88 765M443 761L455 764M75 816L68 821M450 818L465 820M145 681L161 691"/></g>
<g class="n c" style="font-size:3.9px"><text x="246.6" y="668.4">5</text><text x="293.2" y="681.5">5</text><text x="186.7" y="683.5">5</text><text x="351.2" y="686.3">5</text><text x="136.9" y="717.3">5</text><text x="392.5" y="729.2">5</text><text x="99.6" y="759.8">5</text><text x="440.1" y="763.7">5</text><text x="77" y="815.3">5</text><text x="447.3" y="817.3">5</text><text x="142.2" y="679.6">22</text></g>
<g class="k"><path d="M459 766L463 773M459 766L466 763"/><path d="M435 793L431 786M435 793L428 796"/></g>
<text x="466" y="776" style="font-size:4.5px">4</text><text x="424" y="795" style="font-size:4.5px">4</text>

<!-- ===== small sections ===== -->
<text x="662.7" y="308" class="c" style="font-size:6px">с1 – с1</text><line x1="651" y1="309.5" x2="674" y2="309.5" class="t"/>
<text x="712" y="308" class="c" style="font-size:6px">б – б</text><line x1="704" y1="309.5" x2="720" y2="309.5" class="t"/>
<text x="766.3" y="309.5" class="c" style="font-size:6px">д – д</text><line x1="758" y1="311" x2="775" y2="311" class="t"/>
<text x="690.3" y="386" class="c" style="font-size:6px">4 – 4</text><line x1="682" y1="387.5" x2="699" y2="387.5" class="t"/>
<g class="t">
<path d="M666 321V333L669.5 335V321" style="stroke-width:.6"/><path d="M660 326Q657 332 663 335"/><path d="M663 326V335L669 335M669 335V344M671 335V344M671 339H675"/>
<path d="M713 336V347M716 336V347M713 347L716 352L722 364M716 347L712 352L718 365M709 351H730M730 349V353M705 342Q700 350 706 357"/>
<path d="M769.8 320V348M771.2 320V348M761 326L765 326M765 323V330H770V323Z"/><path d="M771 327H784M771 342H784M782 327V342" />
<circle cx="753.9" cy="326" r="3"/><path d="M757 327L763 327"/>
<path d="M651.6 422.6H691.6M651.6 452.6H693.4" style="stroke-dasharray:5 1.2 1 1.2"/>
<path d="M693.4 452.6L714 400.4M695.6 452.6L716.2 400.4" style="stroke-width:.5"/>
<path d="M690 425L697 418L704 421L697 428Z"/><circle cx="697" cy="423" r="2" fill="#000"/>
<circle cx="689.7" cy="407" r="3"/><path d="M690 410L695 420M707 419L720 424M706 430L718 436M700 449L714 456M712 398L722 402"/>
<path d="M665 414H677L682 420M665 440H677L682 450"/>
</g>
<g class="n"><text x="711" y="321.4" class="c" style="font-size:2.6px">стыковой шов</text><text x="711" y="324.4" class="c" style="font-size:2.6px">1 категории</text><text x="711" y="327.4" class="c" style="font-size:2.6px">1 типа, 100%УЗК</text>
<text x="753.9" y="327.3" class="c" style="font-size:3.6px">5</text><text x="689.7" y="408.3" class="c" style="font-size:3.6px">5</text>
<text x="665" y="413.5">R=3162</text><text x="665" y="439.5">R-3120</text><text transform="translate(784,338) rotate(-90)" class="c">125</text><text transform="translate(658,331) rotate(-70)">45°</text><text transform="translate(703,352) rotate(-90)">47°</text><text x="671" y="343">2</text><text x="726" y="349">2</text><text x="716" y="399">12</text><text transform="translate(710,426) rotate(-65)">25</text><text transform="translate(702,440) rotate(-65)">25</text><text transform="translate(715,450) rotate(-65)">125</text></g>

<!-- ===== Развертка дет 22 ===== -->
<text x="1017" y="599" class="c" style="font-size:6.3px">Развертка дет. 22</text><line x1="989" y1="600.5" x2="1045" y2="600.5" class="t"/>
<line x1="705.5" y1="607.6" x2="1349" y2="607.6" class="t"/>
<line x1="689" y1="636.7" x2="1349" y2="636.7" class="t"/>
<path d="M705.5 607.6Q1009 771.8 1312.4 607.6" class="k" style="stroke-width:1.1"/>
<path d="M689 636.7Q1010 810.5 1330.9 636.7" class="m"/>
<path d="M705.5 607.6L689 636.7M1312.4 607.6L1330.9 636.7" class="m"/>
<g class="t"><path d="M689 636.7V752M705.5 607.6V741M1312.4 607.6V741M1330.9 636.7V752M1010.9 723.6H1365"/>
<line x1="689" y1="737.3" x2="705.5" y2="737.3" class="t dm"/><line x1="705.5" y1="737.3" x2="1312.4" y2="737.3" class="t dm"/><line x1="1312.4" y1="737.3" x2="1330.9" y2="737.3" class="t dm"/>
<line x1="689" y1="750.6" x2="1330.9" y2="750.6" class="t dm"/>
<line x1="1361" y1="607.6" x2="1361" y2="723.6" class="t dm"/><line x1="1341.6" y1="636.7" x2="1341.6" y2="723.6" class="t dm"/><line x1="1341.6" y1="607.6" x2="1341.6" y2="636.7" class="t dm"/><line x1="1330" y1="607.6" x2="1365" y2="607.6"/>
<path d="M1069 664.5H1087L1103.3 681.1M1140 650L1145 681M1147 683L1148 700M1264 646L1276 668"/></g>
<g class="n c"><text x="697" y="735">271</text><text x="1009" y="735">9356</text><text x="1321" y="735">271</text><text x="1009" y="748.5">9898</text>
<text transform="translate(1359.5,666) rotate(-90)">1816</text><text transform="translate(1340,681) rotate(-90)">1360</text><text transform="translate(1340,622) rotate(-90)">456</text>
<text transform="translate(1141,657) rotate(80)">R 9109</text><text transform="translate(1149,688) rotate(80)">R 9330</text><text transform="translate(1268,655) rotate(70)">530</text>
<text x="1078" y="663.5" style="font-size:3px">фаска по радиусу</text></g>
<rect x="963.3" y="647" width="71.1" height="8" class="t"/><text x="998.8" y="653.5" class="c" style="font-size:5.3px">гнуть фасками наружу</text>
<g class="k"><path d="M1188 643V650M1185 649H1190"/><path d="M1193 669V676M1190 675H1195"/><path d="M708 625L711 633M706 632H712"/><path d="M692 617L688 624"/></g>
<g style="font-size:5px"><text transform="translate(1183,652) rotate(-80)">а1</text><text transform="translate(1188,680) rotate(-80)">а1</text><text transform="translate(709,641) rotate(80)">а1</text><text transform="translate(682,622) rotate(80)">а1</text></g>
<text x="1385.4" y="593" class="c" style="font-size:6px">а1 – а1</text><line x1="1376" y1="594.5" x2="1395" y2="594.5" class="t"/>
<g class="t"><path d="M1389 603V628M1389 628H1393M1393 626V631M1389 603L1398 614L1391 625M1389 608Q1395 609 1397 612"/></g>
<text x="1396" y="610" class="n" style="font-size:3px">53°</text><text transform="translate(1382,630) rotate(-90)" class="n">2</text>

<!-- ===== notes ===== -->
<g class="nt">
<text x="1296" y="872">1. Все отверстия оговорены;</text>
<text x="1296" y="877.8">2. Все свободные кромки деталей притупить;</text>
<text x="1296" y="883.7">3. Все катеты сварных швов 8 мм, кроме оговоренных;</text>
<text x="1296" y="889.5">4. Все скосы оговорены;</text>
<text x="1296" y="895.3">5. Изготовление и контроль качества металлоконструкций осуществлять</text>
<text x="1296" y="901.2">в соответствии с требованиями СП 53-101-98, ГОСТ 23118-99</text>
<text x="1296" y="907">Конструкции стальные строительные. Общие технические условия;</text>
<text x="1296" y="912.8">6. Предельные отклонения геометрических параметров отправочных</text>
<text x="1296" y="918.6">марок контрольных и общих сборок должны соответствовать 4 классу</text>
<text x="1296" y="924.5">по ГОСТ 21779-82 "Технологические допуски";</text>
<text x="1296" y="930.3">7. Заводские стыковые, поясные и угловые швы в элементах длиной более 2м</text>
<text x="1296" y="936.1">рекомендуется выполнять механизированной сваркой под флюсом;</text>
<text x="1296" y="942">прочие заводские швы всех элементов - механизированной сваркой в среде</text>
<text x="1296" y="947.8">CO2 сварочной проволокой Св08Г2С по ГОСТ 2246-70*</text>
<text x="1296" y="953.6">Конструктивные элементы и размеры сварных швов должны отвечать</text>
<text x="1296" y="959.5">требованиям ГОСТ 14771-76 и ГОСТ 23518-79;</text>
<text x="1296" y="965.3">8. Методы контроля сварных швов - визуальный, контрольно-измерительный,</text>
<text x="1296" y="971.1">объем контроля - 100%;</text>
<text x="1296" y="977">9. Металлоконструкции покрыть 1м слоем грунтовки ГФ-021</text>
<text x="1296" y="982.8">по ГОСТ 25129-82 общей толщиной 50 мкм (0,05мм) с последующей окраской</text>
<text x="1296" y="988.6">эмалью ПФ-115 ГОСТ 6465-76 в 2 слоя.</text>
<text x="1296" y="994.5">Перед огрунтовкой выполнить вторую степень очистки поверхности от</text>
<text x="1296" y="1000.3">окислов дробеструйной обработкой.</text>
<text x="1296" y="1006.1">10. Дет. 4 для транспортировки, дет.5 для сборки срезать после транспортирования</text>
<text x="1296" y="1012">и монтажа срезать , места среза зачистить</text>
</g>

<!-- ===== title block ===== -->
<g class="k" style="stroke-width:.6">
<rect x="1287" y="1026" width="235" height="69.7"/>
<path d="M1370.4 1026V1095.7M1287 1051.9H1370.4M1287 1058H1522M1370.4 1039.2H1522M1370.4 1077H1522M1459 1058V1095.7M1477.6 1058V1077M1497 1058V1077M1459 1064.3H1522"/>
<path d="M1301 1026V1058M1313.5 1026V1095.7M1326.3 1026V1058M1338.7 1026V1095.7M1357.7 1026V1095.7"/>
</g>
<g class="t" style="stroke-width:.4"><path d="M1287 1033H1370.4M1287 1039.2H1370.4M1287 1045.7H1370.4M1287 1064.3H1370.4M1287 1070.7H1370.4M1287 1077H1370.4M1287 1083.3H1370.4M1287 1089.7H1370.4"/></g>
<g style="font-size:3.5px">
<text x="1288" y="1056.8">Изм.</text><text x="1301.5" y="1056.8">Кол.уч</text><text x="1314.5" y="1056.8">Лист</text><text x="1327" y="1056.8">№док.</text><text x="1340" y="1056.8">Подпись</text><text x="1359" y="1056.8">Дата</text>
<text x="1288" y="1063">Утвердил</text><text x="1314.5" y="1063">Руденко</text><text x="1359" y="1063">15.01</text>
<text x="1288" y="1069.4">Н. контроль</text><text x="1314.5" y="1069.4">Гаврилин</text><text x="1359" y="1069.4">15.01</text>
<text x="1288" y="1075.7">Проверил</text><text x="1314.5" y="1075.7">Сидоренко</text><text x="1359" y="1075.7">15.01</text>
<text x="1288" y="1082">Выполнил</text><text x="1314.5" y="1082" style="font-size:3px">Волобуев</text><text x="1359" y="1082">15.01</text>
</g>
<text x="1446" y="1036.3" class="c" style="font-size:7.8px">М32788.02.06-КМ1.1</text>
<text x="1446" y="1050.3" class="c" style="font-size:4.4px">ПАО "ММК". ГОП. Строительство новой аглофабрики.</text>
<text x="1446" y="1055.6" class="c" style="font-size:4.4px">Аглоцех. Здание дозирования шихты. Бункеры.</text>
<text x="1468.3" y="1062.9" class="c" style="font-size:4px">Стадия</text><text x="1487.3" y="1062.9" class="c" style="font-size:4px">Лист</text><text x="1509.5" y="1062.9" class="c" style="font-size:4px">Листов</text>
<text x="1468.3" y="1074" class="c" style="font-size:6.5px">Р</text>
<text x="1414.7" y="1089" class="c" style="font-size:5.5px">Элементы бункера Б10</text>
<text x="1484" y="1101.2" style="font-size:3.3px">Формат: А0 1190х840</text>

<!-- ===== left stamp ===== -->
<g class="t" style="stroke-width:.35">
<path d="M6.5 904.6H32M12.9 904.6V987.9M19.3 904.6V987.9M25.8 904.6V987.9M12.9 917.2H32M12.9 936.4H32M12.9 962.2H32M6.5 987.9H32"/>
</g>
<g class="k" style="stroke-width:.6"><path d="M16.8 987.9V1095.7M23.2 987.9V1095.7M16.8 1019.5H32M16.8 1064.3H32"/></g>
<g style="font-size:3.6px" class="c">
<text transform="translate(11.5,963) rotate(-90)">Согласованно</text>
<text transform="translate(21.5,1003) rotate(-90)">Взам. инв. №</text>
<text transform="translate(21.5,1042) rotate(-90)">Подп. и дата</text>
<text transform="translate(21.5,1080) rotate(-90)">Инв. № подл.</text>
<text transform="translate(12,1080) rotate(-90)" style="font-size:3px">Tekla structures</text>
</g>
</svg>
</body></html>
